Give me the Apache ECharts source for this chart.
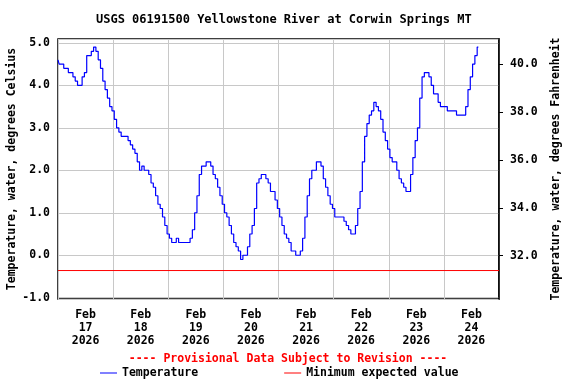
<!DOCTYPE html>
<html><head><meta charset="utf-8">
<script src="https://cdn.jsdelivr.net/npm/echarts@6/dist/echarts.min.js"></script>
<style>html,body{margin:0;padding:0;background:#fff}#c{width:576px;height:384px}</style>
</head><body><div id="c"></div>
<script>
const chartTitle = 'USGS 06191500 Yellowstone River at Corwin Springs MT';
const provisional = '---- Provisional Data Subject to Revision ----';
const dayLabels = ['Feb\n17\n2026','Feb\n18\n2026','Feb\n19\n2026','Feb\n20\n2026','Feb\n21\n2026','Feb\n22\n2026','Feb\n23\n2026','Feb\n24\n2026'];
const fahrenheitTicks = [32, 34, 36, 38, 40];
// hourly water temperature (deg C), starting Feb 17 00:00
const feb17 = [4.6,4.5,4.5,4.4,4.4,4.3,4.3,4.2,4.1,4.0,4.0,4.2,4.3,4.7,4.7,4.8,4.9,4.8,4.6,4.4,4.1,3.9,3.7,3.5];
const feb18 = [3.4,3.2,3.0,2.9,2.8,2.8,2.8,2.7,2.6,2.5,2.4,2.2,2.0,2.1,2.0,2.0,1.9,1.7,1.6,1.4,1.2,1.1,0.9,0.7];
const feb19 = [0.5,0.4,0.3,0.3,0.4,0.3,0.3,0.3,0.3,0.3,0.4,0.6,1.0,1.4,1.9,2.1,2.1,2.2,2.2,2.1,1.9,1.8,1.6,1.4];
const feb20 = [1.2,1.0,0.9,0.7,0.5,0.3,0.2,0.1,-0.1,0.0,0.0,0.2,0.5,0.7,1.1,1.7,1.8,1.9,1.9,1.8,1.7,1.5,1.5,1.3];
const feb21 = [1.1,0.9,0.7,0.5,0.4,0.3,0.1,0.1,0.0,0.0,0.1,0.4,0.9,1.4,1.8,2.0,2.0,2.2,2.2,2.1,1.8,1.6,1.4,1.2];
const feb22 = [1.1,0.9,0.9,0.9,0.9,0.8,0.7,0.6,0.5,0.5,0.7,1.1,1.5,2.2,2.8,3.1,3.3,3.4,3.6,3.5,3.4,3.2,2.9,2.7];
const feb23 = [2.5,2.3,2.2,2.2,2.0,1.8,1.7,1.6,1.5,1.5,1.9,2.3,2.7,3.0,3.7,4.2,4.3,4.3,4.2,4.0,3.8,3.8,3.6,3.5];
const feb24 = [3.5,3.5,3.4,3.4,3.4,3.4,3.3,3.3,3.3,3.3,3.5,3.9,4.2,4.5,4.7,4.9];
const minExpected = -0.36;
const celsiusRange = [-1.03, 5.09];
const fahrenheitRange = [30.19, 41.05];
const hoursShown = 192;

const temps = [].concat(feb17, feb18, feb19, feb20, feb21, feb22, feb23, feb24);
const F = '"DejaVu Sans Mono", monospace';
const txt = {fontFamily: F, fontWeight: 'bold', fontSize: 11.5, color: '#000'};
const isInt = v => Math.abs(v - Math.round(v)) < 1e-6;

const chart = echarts.init(document.getElementById('c'), null, {renderer: 'canvas'});
chart.setOption({
  animation: false,
  backgroundColor: '#fff',
  title: {text: chartTitle, left: 96, top: 14, padding: 0,
    textStyle: {fontFamily: F, fontWeight: 'bold', fontSize: 12, color: '#000'}},
  grid: {left: 58, right: 77, top: 39, bottom: 85, containLabel: false, outerBoundsMode: 'none',
    show: true, borderColor: '#000', borderWidth: 1.5, backgroundColor: '#fff'},
  legend: {left: 100, top: 367, itemWidth: 17, itemHeight: 1, itemGap: 86, padding: 0,
    icon: 'rect', textStyle: txt,
    data: ['Temperature', 'Minimum expected value']},
  graphic: [{type: 'text', left: 'center', top: 353, style: {text: provisional, fill: '#ff0000',
    font: 'bold 11.5px ' + F}}],
  xAxis: [
    {type: 'value', min: 0, max: hoursShown, interval: 24, axisLine: {show: false}, axisTick: {show: false},
     axisLabel: {show: false}, splitLine: {show: true, lineStyle: {color: '#c8c8c8', width: 1}}},
    {type: 'value', min: 0, max: hoursShown, interval: 12, position: 'bottom', axisLine: {show: false}, axisTick: {show: false},
     splitLine: {show: false},
     axisLabel: Object.assign({}, txt, {margin: 10, lineHeight: 13, showMinLabel: true, showMaxLabel: true,
       formatter: v => (v % 24 === 12) ? dayLabels[(v - 12) / 24] : ''})}
  ],
  yAxis: [
    {type: 'value', min: celsiusRange[0], max: celsiusRange[1], splitNumber: 6, position: 'left',
     name: 'Temperature, water, degrees Celsius', nameLocation: 'middle', nameGap: 40, nameMoveOverlap: false, nameTextStyle: txt,
     axisLine: {show: false}, axisTick: {show: false},
     axisLabel: Object.assign({}, txt, {margin: 8, formatter: v => isInt(v) ? v.toFixed(1) : ''}),
     splitLine: {show: true, lineStyle: {color: '#c8c8c8', width: 1}}},
    {type: 'value', min: fahrenheitRange[0], max: fahrenheitRange[1], splitNumber: 5, position: 'right', alignTicks: false,
     name: 'Temperature, water, degrees Fahrenheit', nameLocation: 'middle', nameGap: 51, nameMoveOverlap: false, nameTextStyle: txt,
     axisLine: {show: true, onZero: false, lineStyle: {color: '#000', width: 1.5}},
     axisTick: {show: true, inside: false, length: 4, customValues: fahrenheitTicks, lineStyle: {color: '#000', width: 1}},
     axisLabel: Object.assign({}, txt, {margin: 11, customValues: fahrenheitTicks, formatter: v => v.toFixed(1)}),
     splitLine: {show: false}}
  ],
  series: [
    {name: 'Temperature', type: 'line', xAxisIndex: 0, yAxisIndex: 0, step: 'middle', showSymbol: false, symbol: 'none',
     color: '#0000ff', lineStyle: {color: '#0000ff', width: 1.2},
     data: temps.map((v, i) => [i, v]), z: 3},
    {name: 'Minimum expected value', type: 'line', xAxisIndex: 0, yAxisIndex: 0, showSymbol: false, symbol: 'none',
     color: '#ff0000', lineStyle: {color: '#ff0000', width: 1},
     data: [[0, minExpected], [hoursShown, minExpected]], z: 2}
  ]
});
</script></body></html>
